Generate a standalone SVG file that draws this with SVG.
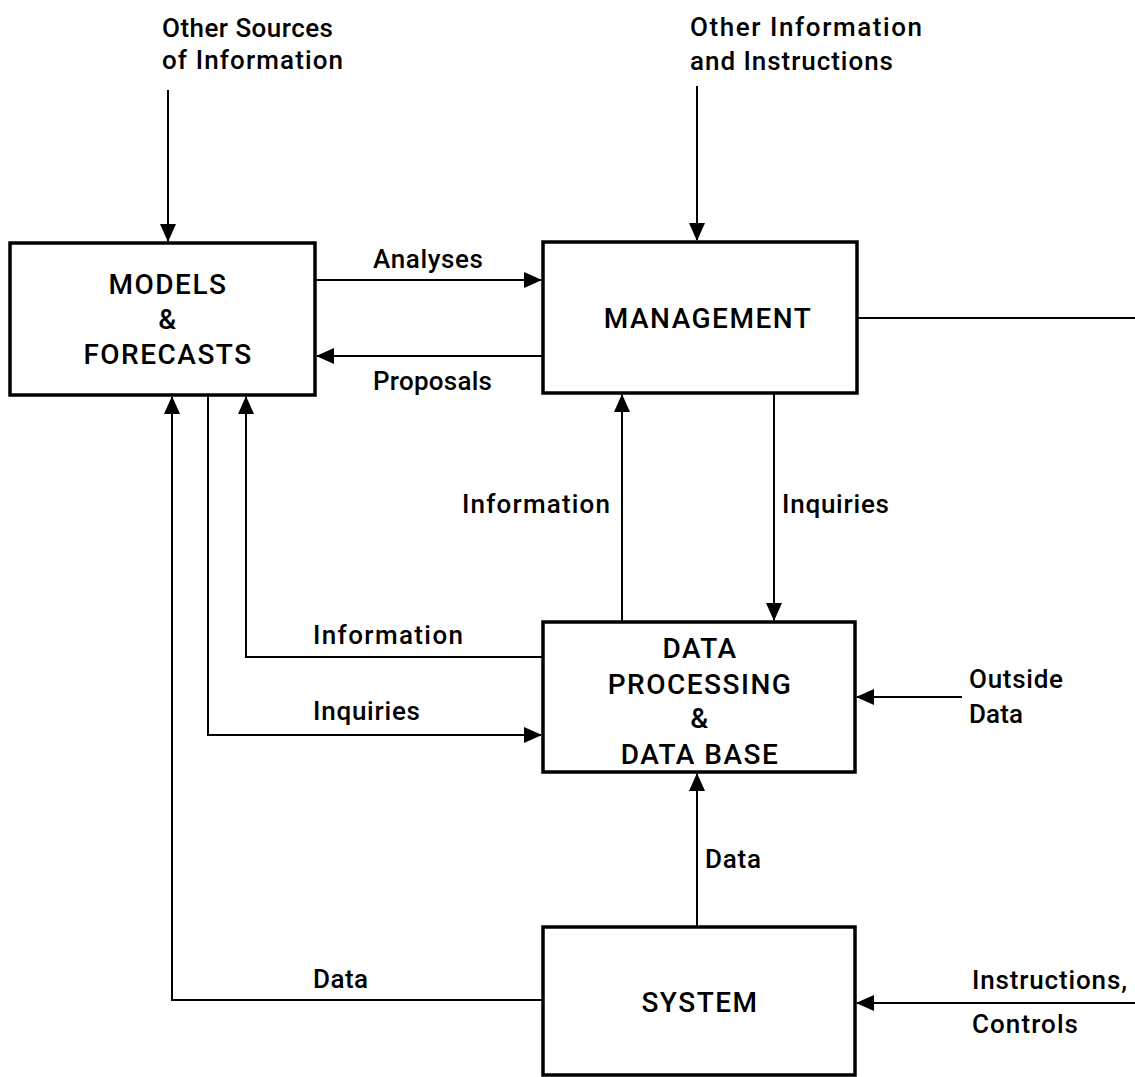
<svg xmlns="http://www.w3.org/2000/svg" width="1135" height="1077" viewBox="0 0 1135 1077">
<style>
.box{fill:#fff;stroke:#000;stroke-width:3.5}
.t{font-family:Roboto,"Liberation Sans",sans-serif;font-weight:500;fill:#000}
.bt{font-size:28px;text-anchor:middle;letter-spacing:1.5px}
.lt{font-size:26px}
.c{fill:none;stroke:#000;stroke-width:2}
</style>
<defs>
<marker id="ah" markerUnits="userSpaceOnUse" markerWidth="18" markerHeight="16" refX="17" refY="8" orient="auto">
<path d="M0,0 L18,8 L0,16 Z" fill="#000"/>
</marker>
</defs>
<g id="connectors">
<path class="c" d="M168,90 V241" marker-end="url(#ah)"/>
<path class="c" d="M697,86 V240" marker-end="url(#ah)"/>
<path class="c" d="M315,280 H541" marker-end="url(#ah)"/>
<path class="c" d="M543,356 H317" marker-end="url(#ah)"/>
<path class="c" d="M857,318 H1135"/>
<path class="c" d="M622,622 V395" marker-end="url(#ah)"/>
<path class="c" d="M774,393 V620" marker-end="url(#ah)"/>
<path class="c" d="M543,657 H246 V397" marker-end="url(#ah)"/>
<path class="c" d="M208,395 V735 H541" marker-end="url(#ah)"/>
<path class="c" d="M543,1000 H172 V397" marker-end="url(#ah)"/>
<path class="c" d="M697,927 V774" marker-end="url(#ah)"/>
<path class="c" d="M962,697 H857" marker-end="url(#ah)"/>
<path class="c" d="M1135,1003 H857" marker-end="url(#ah)"/>
</g>
<g id="models">
<rect class="box" x="10" y="243" width="305" height="152"/>
<text class="t bt" x="168" y="294">MODELS</text>
<text class="t bt" x="168" y="329">&amp;</text>
<text class="t bt" x="168" y="364">FORECASTS</text>
</g>
<g id="management">
<rect class="box" x="543" y="242" width="314" height="151"/>
<text class="t bt" x="708" y="328">MANAGEMENT</text>
</g>
<g id="dataprocessing">
<rect class="box" x="543" y="622" width="312" height="150"/>
<text class="t bt" x="700" y="658">DATA</text>
<text class="t bt" x="700" y="694">PROCESSING</text>
<text class="t bt" x="700" y="728">&amp;</text>
<text class="t bt" x="700" y="764">DATA BASE</text>
</g>
<g id="system">
<rect class="box" x="543" y="927" width="312" height="148"/>
<text class="t bt" x="700" y="1012">SYSTEM</text>
</g>
<g id="labels">
<text class="t lt" x="162" y="37" textLength="171" lengthAdjust="spacing">Other Sources</text>
<text class="t lt" x="162" y="69" textLength="181" lengthAdjust="spacing">of Information</text>
<text class="t lt" x="690" y="36" textLength="232" lengthAdjust="spacing">Other Information</text>
<text class="t lt" x="690" y="70" textLength="203" lengthAdjust="spacing">and Instructions</text>
<text class="t lt" x="373" y="268" textLength="110" lengthAdjust="spacing">Analyses</text>
<text class="t lt" x="373" y="390" textLength="119" lengthAdjust="spacing">Proposals</text>
<text class="t lt" x="462" y="513" textLength="148" lengthAdjust="spacing">Information</text>
<text class="t lt" x="782" y="513" textLength="107" lengthAdjust="spacing">Inquiries</text>
<text class="t lt" x="313" y="644" textLength="150" lengthAdjust="spacing">Information</text>
<text class="t lt" x="313" y="720" textLength="107" lengthAdjust="spacing">Inquiries</text>
<text class="t lt" x="705" y="868" textLength="56" lengthAdjust="spacing">Data</text>
<text class="t lt" x="969" y="688" textLength="94" lengthAdjust="spacing">Outside</text>
<text class="t lt" x="969" y="723" textLength="54" lengthAdjust="spacing">Data</text>
<text class="t lt" x="313" y="988" textLength="55" lengthAdjust="spacing">Data</text>
<text class="t lt" x="972" y="989" textLength="155" lengthAdjust="spacing">Instructions,</text>
<text class="t lt" x="972" y="1033" textLength="106" lengthAdjust="spacing">Controls</text>
</g>
</svg>
